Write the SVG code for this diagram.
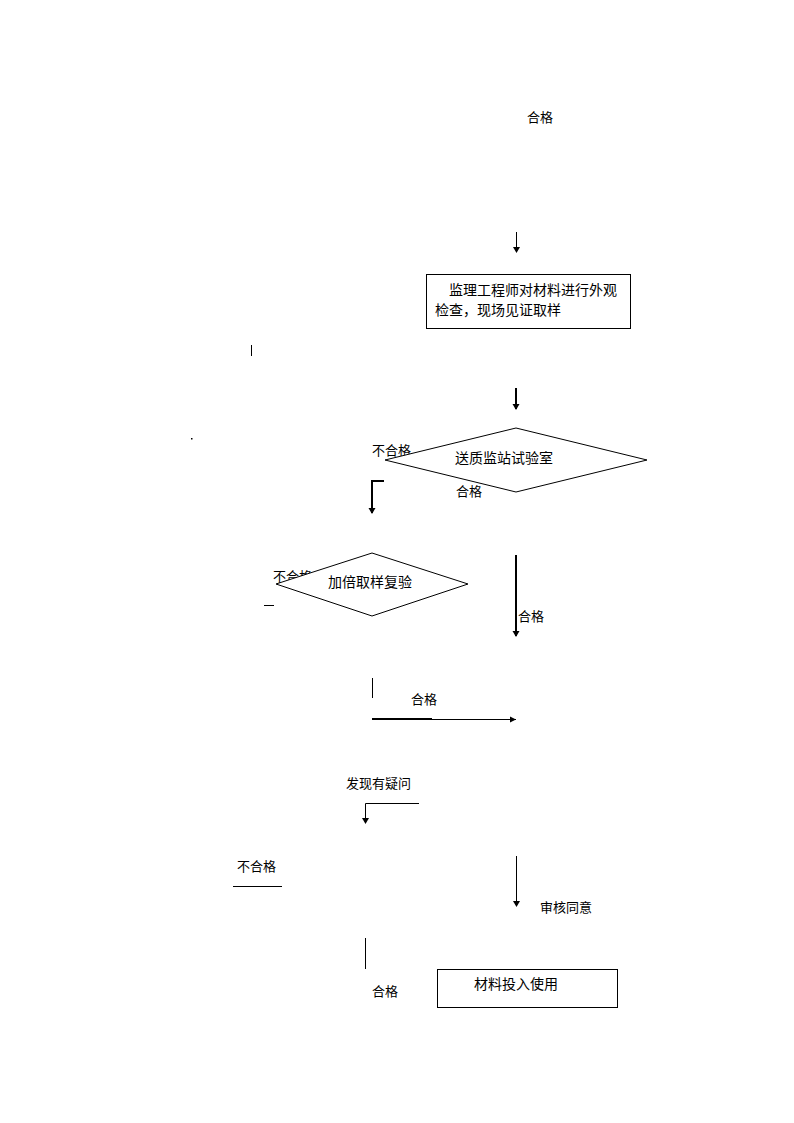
<svg xmlns="http://www.w3.org/2000/svg" width="794" height="1123" viewBox="0 0 794 1123">
<defs>
<style>
text{font-family:"Noto Sans CJK SC","Liberation Sans",sans-serif;fill:#000}
.t13{font-size:13px}
.t14{font-size:14px}
.ln{stroke:#000;stroke-width:1;fill:none}
.th{stroke:#000;stroke-width:2;fill:none}
.nd{fill:#fff;stroke:#000;stroke-width:1}
</style>
<marker id="ad" markerWidth="8" markerHeight="8" refX="4" refY="7" markerUnits="userSpaceOnUse" viewBox="0 0 8 8">
<path d="M0.5,2 L7.5,2 L4,8 Z" fill="#000"/>
</marker>
<marker id="ar" markerWidth="8" markerHeight="8" refX="7" refY="4" markerUnits="userSpaceOnUse" viewBox="0 0 8 8">
<path d="M1,1 L7,4 L1,7 Z" fill="#000"/>
</marker>
</defs>
<rect width="794" height="1123" fill="#fff"/>
<g id="connectors">
<line class="ln" x1="516.5" y1="232" x2="516.5" y2="252" marker-end="url(#ad)"/>
<line class="th" x1="516" y1="388" x2="516" y2="409" marker-end="url(#ad)"/>
<polyline class="th" points="384,481 372,481 372,513" marker-end="url(#ad)"/>
<line class="th" x1="516" y1="555" x2="516" y2="636" marker-end="url(#ad)"/>
<line class="ln" x1="251.5" y1="345" x2="251.5" y2="356"/>
<rect x="191" y="438" width="1.5" height="1.5" fill="#000"/>
<line class="ln" x1="264" y1="605.5" x2="274" y2="605.5"/>
<line class="ln" x1="372.5" y1="678" x2="372.5" y2="698"/>
<line class="th" x1="372" y1="719" x2="432" y2="719"/>
<line class="ln" x1="432" y1="719.5" x2="516" y2="719.5" marker-end="url(#ar)"/>
<polyline class="ln" points="419,803.5 365.5,803.5 365.5,823" marker-end="url(#ad)"/>
<line class="ln" x1="233" y1="886.5" x2="282" y2="886.5"/>
<line class="ln" x1="516.5" y1="856" x2="516.5" y2="906" marker-end="url(#ad)"/>
<line class="ln" x1="365.5" y1="938" x2="365.5" y2="969"/>
</g>
<g id="labels">
<text class="t13" x="527" y="122">合格</text>
<text class="t13" x="372" y="455">不合格</text>
<text class="t13" x="456" y="496">合格</text>
<text class="t13" x="273" y="581">不合格</text>
<text class="t13" x="518" y="621">合格</text>
<text class="t13" x="411" y="704">合格</text>
<text class="t13" x="346" y="788">发现有疑问</text>
<text class="t13" x="237" y="871">不合格</text>
<text class="t13" x="540" y="912">审核同意</text>
<text class="t13" x="372" y="996">合格</text>
</g>
<g id="node-inspect">
<rect class="nd" x="426.5" y="274.5" width="204" height="54"/>
<text class="t14" x="449" y="295">监理工程师对材料进行外观</text>
<text class="t14" x="435" y="315">检查，现场见证取样</text>
</g>
<g id="node-lab">
<polygon class="nd" points="385,460 516,428 647,460 516,492"/>
<text class="t14" x="455" y="463">送质监站试验室</text>
</g>
<g id="node-retest">
<polygon class="nd" points="276,584 372,553 468,584 372,616"/>
<text class="t14" x="328" y="587">加倍取样复验</text>
</g>
<g id="node-use">
<rect class="nd" x="437.5" y="969.5" width="180" height="38"/>
<text class="t14" x="474" y="989">材料投入使用</text>
</g>
</svg>
